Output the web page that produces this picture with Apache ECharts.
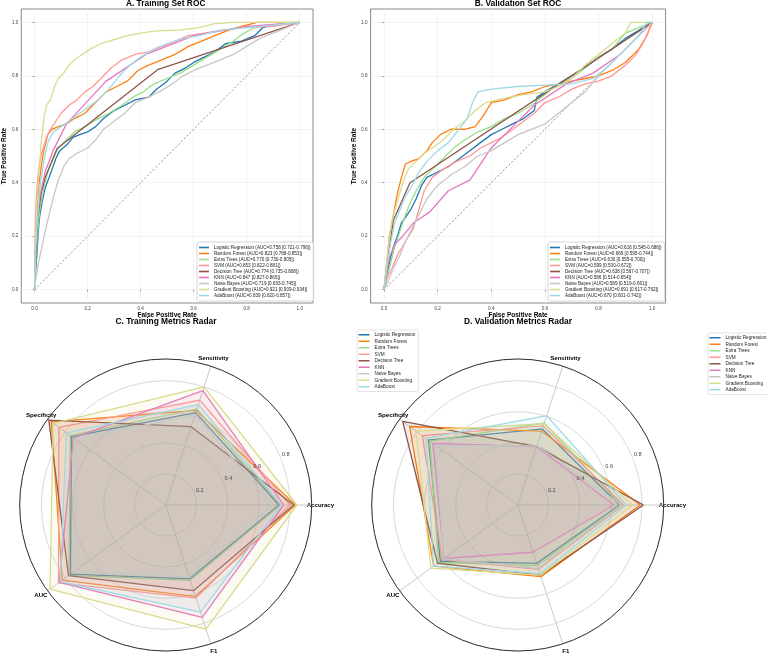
<!DOCTYPE html>
<html><head><meta charset="utf-8">
<script src="https://cdn.jsdelivr.net/npm/echarts@6/dist/echarts.min.js"></script>
<style>html,body{margin:0;padding:0;background:#fff}#c{width:767px;height:654px}</style>
</head><body><div id="c"></div><script>
// ---------------- data ----------------
const models = ['Logistic Regression','Random Forest','Extra Trees','SVM','Decision Tree','KNN','Naive Bayes','Gradient Boosting','AdaBoost'];
const colors = ['#1f77b4','#ff7f0e','#98df8a','#ff9896','#8c564b','#e377c2','#c7c7c7','#dbdb8d','#9edae5'];

const trainAUC    = [0.758,0.823,0.770,0.853,0.774,0.847,0.719,0.921,0.839];
const trainCILow  = [0.721,0.788,0.730,0.822,0.735,0.827,0.693,0.909,0.820];
const trainCIHigh = [0.796,0.853,0.805,0.881,0.808,0.866,0.745,0.934,0.857];
const valAUC      = [0.616,0.669,0.630,0.599,0.638,0.586,0.589,0.691,0.670];
const valCILow    = [0.545,0.595,0.555,0.530,0.567,0.514,0.519,0.617,0.601];
const valCIHigh   = [0.686,0.744,0.700,0.672,0.707,0.654,0.661,0.762,0.742];

const rocTicks = [0,0.2,0.4,0.6,0.8,1.0];
const diagonal = [[0,0],[1,1]];

const rocTrainLR = [[0,0],[0.004,0.07],[0.008,0.12],[0.014,0.22],[0.02,0.28],[0.029,0.33],[0.04,0.38],[0.055,0.42],[0.066,0.45],[0.08,0.49],[0.095,0.52],[0.12,0.54],[0.145,0.57],[0.17,0.58],[0.2,0.59],[0.23,0.61],[0.26,0.64],[0.3,0.67],[0.34,0.69],[0.38,0.71],[0.43,0.72],[0.46,0.75],[0.5,0.78],[0.53,0.81],[0.57,0.83],[0.6,0.85],[0.64,0.87],[0.68,0.89],[0.72,0.92],[0.78,0.93],[0.83,0.95],[0.86,0.98],[0.9,0.99],[1,1]];
const rocTrainRF = [[0,0],[0.003,0.15],[0.008,0.27],[0.015,0.38],[0.025,0.46],[0.035,0.52],[0.05,0.58],[0.065,0.6],[0.09,0.61],[0.12,0.62],[0.15,0.64],[0.19,0.66],[0.23,0.7],[0.27,0.74],[0.31,0.76],[0.35,0.78],[0.39,0.82],[0.43,0.84],[0.48,0.86],[0.53,0.88],[0.58,0.91],[0.63,0.93],[0.68,0.95],[0.73,0.97],[0.78,0.985],[0.84,1],[1,1]];
const rocTrainET = [[0,0],[0.004,0.1],[0.01,0.2],[0.02,0.3],[0.035,0.38],[0.05,0.44],[0.07,0.49],[0.09,0.53],[0.12,0.56],[0.15,0.59],[0.19,0.61],[0.24,0.64],[0.28,0.66],[0.33,0.69],[0.37,0.72],[0.41,0.74],[0.45,0.77],[0.5,0.79],[0.55,0.81],[0.6,0.84],[0.65,0.87],[0.7,0.9],[0.75,0.93],[0.79,0.96],[0.83,0.98],[0.88,0.99],[1,1]];
const rocTrainSVM = [[0,0],[0.002,0.2],[0.006,0.33],[0.012,0.42],[0.02,0.48],[0.03,0.52],[0.045,0.57],[0.06,0.6],[0.08,0.63],[0.1,0.66],[0.13,0.69],[0.16,0.71],[0.19,0.74],[0.22,0.76],[0.25,0.79],[0.29,0.83],[0.33,0.86],[0.38,0.88],[0.43,0.89],[0.48,0.91],[0.53,0.93],[0.58,0.95],[0.64,0.96],[0.7,0.97],[0.78,0.98],[0.9,0.985],[1,1]];
const rocTrainDT = [[0,0],[0.004,0.12],[0.012,0.27],[0.025,0.36],[0.04,0.42],[0.085,0.528],[0.464,0.823],[1,1]];
const rocTrainKNN = [[0,0],[0.003,0.14],[0.01,0.27],[0.02,0.35],[0.04,0.44],[0.07,0.52],[0.12,0.62],[0.27,0.78],[0.42,0.88],[0.6,0.95],[0.8,0.985],[1,1]];
const rocTrainNB = [[0,0],[0.005,0.04],[0.015,0.1],[0.03,0.17],[0.045,0.24],[0.06,0.3],[0.075,0.36],[0.09,0.41],[0.11,0.46],[0.13,0.49],[0.16,0.51],[0.2,0.53],[0.23,0.56],[0.26,0.6],[0.3,0.63],[0.34,0.66],[0.38,0.7],[0.43,0.72],[0.47,0.74],[0.52,0.77],[0.56,0.8],[0.6,0.82],[0.65,0.84],[0.7,0.86],[0.75,0.88],[0.8,0.91],[0.85,0.94],[0.9,0.96],[0.95,0.98],[1,1]];
const rocTrainGB = [[0,0],[0.003,0.17],[0.008,0.3],[0.015,0.42],[0.025,0.55],[0.035,0.64],[0.045,0.69],[0.06,0.71],[0.075,0.76],[0.09,0.79],[0.11,0.81],[0.13,0.84],[0.15,0.86],[0.18,0.88],[0.21,0.9],[0.25,0.92],[0.3,0.935],[0.35,0.95],[0.4,0.96],[0.45,0.967],[0.55,0.972],[0.62,0.98],[0.68,0.995],[0.75,1],[1,1]];
const rocTrainAda = [[0,0],[0.003,0.12],[0.01,0.25],[0.02,0.38],[0.035,0.48],[0.05,0.55],[0.07,0.59],[0.1,0.61],[0.13,0.63],[0.17,0.66],[0.2,0.68],[0.24,0.71],[0.28,0.75],[0.32,0.8],[0.36,0.84],[0.4,0.87],[0.45,0.9],[0.5,0.92],[0.56,0.94],[0.62,0.95],[0.7,0.97],[0.8,0.98],[0.9,0.99],[1,1]];

const rocValLR = [[0,0],[0.01,0.05],[0.02,0.1],[0.035,0.16],[0.05,0.2],[0.065,0.25],[0.08,0.27],[0.1,0.3],[0.12,0.34],[0.14,0.39],[0.16,0.42],[0.2,0.44],[0.24,0.46],[0.28,0.49],[0.32,0.52],[0.36,0.55],[0.4,0.58],[0.44,0.6],[0.48,0.62],[0.52,0.64],[0.56,0.67],[0.57,0.72],[0.6,0.74],[0.65,0.77],[0.7,0.8],[0.75,0.83],[0.8,0.87],[0.85,0.9],[0.9,0.94],[0.95,0.97],[1,1]];
const rocValRF = [[0,0],[0.01,0.1],[0.02,0.2],[0.035,0.28],[0.05,0.36],[0.065,0.42],[0.08,0.47],[0.1,0.48],[0.13,0.49],[0.16,0.52],[0.18,0.55],[0.21,0.58],[0.25,0.6],[0.3,0.6],[0.34,0.61],[0.37,0.65],[0.4,0.7],[0.45,0.71],[0.5,0.73],[0.55,0.74],[0.6,0.76],[0.65,0.77],[0.7,0.78],[0.75,0.79],[0.8,0.8],[0.85,0.82],[0.9,0.85],[0.95,0.9],[0.98,0.95],[1,1]];
const rocValET = [[0,0],[0.01,0.04],[0.025,0.1],[0.04,0.16],[0.06,0.22],[0.08,0.28],[0.1,0.33],[0.12,0.37],[0.15,0.42],[0.18,0.45],[0.22,0.49],[0.26,0.53],[0.3,0.56],[0.35,0.59],[0.4,0.61],[0.45,0.64],[0.5,0.66],[0.55,0.69],[0.6,0.73],[0.65,0.77],[0.7,0.79],[0.75,0.83],[0.8,0.87],[0.85,0.9],[0.9,0.96],[0.95,0.98],[1,1]];
const rocValSVM = [[0,0],[0.01,0.04],[0.03,0.08],[0.05,0.13],[0.08,0.18],[0.11,0.23],[0.13,0.3],[0.15,0.37],[0.18,0.42],[0.22,0.45],[0.27,0.48],[0.32,0.5],[0.36,0.53],[0.4,0.55],[0.44,0.57],[0.48,0.6],[0.52,0.63],[0.56,0.66],[0.6,0.7],[0.65,0.72],[0.7,0.75],[0.75,0.77],[0.8,0.78],[0.85,0.8],[0.9,0.84],[0.94,0.88],[0.97,0.93],[1,1]];
const rocValDT = [[0,0],[0.015,0.12],[0.035,0.26],[0.097,0.4],[1,1]];
const rocValKNN = [[0,0],[0.02,0.12],[0.04,0.17],[0.07,0.2],[0.11,0.25],[0.17,0.29],[0.24,0.37],[0.32,0.41],[0.4,0.53],[0.48,0.61],[0.56,0.69],[0.68,0.77],[0.78,0.81],[0.88,0.88],[1,1]];
const rocValNB = [[0,0],[0.015,0.03],[0.035,0.08],[0.06,0.13],[0.08,0.18],[0.1,0.22],[0.13,0.28],[0.16,0.34],[0.2,0.39],[0.25,0.43],[0.3,0.46],[0.35,0.5],[0.4,0.52],[0.45,0.55],[0.5,0.58],[0.55,0.6],[0.6,0.62],[0.65,0.66],[0.7,0.7],[0.75,0.74],[0.8,0.8],[0.85,0.85],[0.9,0.9],[0.95,0.95],[1,1]];
const rocValGB = [[0,0],[0.01,0.1],[0.02,0.2],[0.035,0.28],[0.05,0.33],[0.07,0.4],[0.09,0.45],[0.12,0.48],[0.15,0.51],[0.18,0.53],[0.22,0.56],[0.26,0.6],[0.3,0.63],[0.34,0.67],[0.38,0.7],[0.42,0.71],[0.47,0.72],[0.52,0.73],[0.6,0.74],[0.65,0.76],[0.7,0.79],[0.75,0.84],[0.8,0.88],[0.85,0.92],[0.9,0.96],[0.92,1],[1,1]];
const rocValAda = [[0,0],[0.01,0.08],[0.025,0.18],[0.04,0.25],[0.06,0.3],[0.08,0.35],[0.1,0.38],[0.13,0.44],[0.16,0.48],[0.2,0.52],[0.24,0.55],[0.28,0.6],[0.31,0.64],[0.33,0.7],[0.35,0.74],[0.4,0.75],[0.5,0.76],[0.6,0.765],[0.7,0.77],[0.78,0.79],[0.84,0.84],[0.9,0.9],[0.95,0.95],[0.98,1],[1,1]];

const radarMetrics = ['Accuracy','Sensitivity','Specificity','AUC','F1'];
const radarTickLabels = [0.2,0.4,0.6,0.8];
const radarMax = 0.94;
const trainAccuracy    = [0.73,0.835,0.74,0.80,0.825,0.76,0.69,0.845,0.745];
const trainSensitivity = [0.625,0.64,0.65,0.71,0.53,0.775,0.61,0.80,0.68];
const trainSpecificity = [0.75,0.91,0.76,0.85,0.93,0.735,0.72,0.895,0.79];
const trainF1          = [0.50,0.62,0.51,0.63,0.58,0.76,0.49,0.84,0.725];
const valAccuracy      = [0.655,0.79,0.665,0.68,0.81,0.62,0.67,0.74,0.70];
const valSensitivity   = [0.515,0.50,0.555,0.535,0.395,0.395,0.40,0.55,0.605];
const valSpecificity   = [0.71,0.86,0.70,0.76,0.915,0.675,0.65,0.81,0.73];
const valF1            = [0.395,0.485,0.41,0.435,0.475,0.32,0.43,0.475,0.465];

// ---------------- build ----------------
const rocTrain = [rocTrainLR,rocTrainRF,rocTrainET,rocTrainSVM,rocTrainDT,rocTrainKNN,rocTrainNB,rocTrainGB,rocTrainAda];
const rocVal = [rocValLR,rocValRF,rocValET,rocValSVM,rocValDT,rocValKNN,rocValNB,rocValGB,rocValAda];
const lab = (m,a,l,h)=>`${m} (AUC=${a.toFixed(3)} [${l.toFixed(3)}-${h.toFixed(3)}])`;
const trainLabels = models.map((m,i)=>lab(m,trainAUC[i],trainCILow[i],trainCIHigh[i]));
const valLabels = models.map((m,i)=>lab(m,valAUC[i],valCILow[i],valCIHigh[i]));

const FONT = 'Liberation Sans, Arial, Helvetica, sans-serif';
const tickFmt = v => v.toFixed(1);

function rocX(gi){
  return {gridIndex:gi, type:'value', min:-0.05, max:1.05,
    name:'False Positive Rate', nameLocation:'middle', nameGap:8,
    nameTextStyle:{fontWeight:'bold', fontSize:6.5, color:'#000', fontFamily:FONT},
    axisLine:{show:false},
    axisTick:{show:true, customValues:rocTicks, length:2, lineStyle:{color:'#666', width:0.6}},
    axisLabel:{customValues:rocTicks, formatter:tickFmt, fontSize:4.6, color:'#444', margin:3, fontFamily:FONT},
    splitLine:{show:true, customValues:rocTicks, lineStyle:{color:'#ececec', width:0.6}}};
}
function rocY(gi){
  return {gridIndex:gi, type:'value', min:-0.05, max:1.05,
    name:'True Positive Rate', nameLocation:'middle', nameGap:11,
    nameTextStyle:{fontWeight:'bold', fontSize:6.5, color:'#000', fontFamily:FONT},
    axisLine:{show:false},
    axisTick:{show:true, customValues:rocTicks, length:2, lineStyle:{color:'#666', width:0.6}},
    axisLabel:{customValues:rocTicks, formatter:tickFmt, fontSize:4.6, color:'#444', margin:3, fontFamily:FONT},
    splitLine:{show:true, customValues:rocTicks, lineStyle:{color:'#ececec', width:0.6}}};
}

const series = [];
[0,1].forEach(gi=>{
  const curves = gi===0 ? rocTrain : rocVal;
  const labels = gi===0 ? trainLabels : valLabels;
  series.push({type:'line', name:'diag'+gi, xAxisIndex:gi, yAxisIndex:gi, data:diagonal, symbol:'none',
    lineStyle:{color:'#666', width:0.7, type:[2,2]}, z:2, silent:true});
  models.forEach((m,i)=>{
    series.push({type:'line', name:labels[i], xAxisIndex:gi, yAxisIndex:gi, data:curves[i], symbol:'none',
      lineStyle:{color:colors[i], width:1.3}, itemStyle:{color:colors[i]}, z:3});
  });
});
[0,1].forEach(ri=>{
  const acc = ri===0?trainAccuracy:valAccuracy, sen = ri===0?trainSensitivity:valSensitivity,
        spe = ri===0?trainSpecificity:valSpecificity, auc = ri===0?trainAUC:valAUC, f1 = ri===0?trainF1:valF1;
  models.forEach((m,i)=>{
    series.push({type:'radar', radarIndex:ri, name:m, symbol:'none',
      data:[{name:m, value:[acc[i],sen[i],spe[i],auc[i],f1[i]]}],
      lineStyle:{color:colors[i], width:1.3}, itemStyle:{color:colors[i]},
      areaStyle:{color:colors[i], opacity:0.1}, z:3});
  });
});

const centers = [[165.7,505],[517.7,505]];
const R = 146;
const richKeys = ['a','b','c','d','e'];
const rich = {
  a:{fontWeight:'bold', fontSize:6.1, color:'#000', lineHeight:7, fontFamily:FONT, padding:[0,0,0,6]},
  b:{fontWeight:'bold', fontSize:6.1, color:'#000', lineHeight:7, fontFamily:FONT, padding:[0,0,29,12]},
  c:{fontWeight:'bold', fontSize:6.1, color:'#000', lineHeight:7, fontFamily:FONT, padding:[0,0,14,0]},
  d:{fontWeight:'bold', fontSize:6.1, color:'#000', lineHeight:7, fontFamily:FONT, padding:[15,9,0,0]},
  e:{fontWeight:'bold', fontSize:6.1, color:'#000', lineHeight:7, fontFamily:FONT, padding:[29,0,0,13]}
};
const polar = [], angleAxis = [], radiusAxis = [], radar = [];
centers.forEach((c,k)=>{
  polar.push({center:c, radius:R});
  polar.push({center:c, radius:R});
  const p0 = 2*k, p1 = 2*k+1;
  angleAxis.push({polarIndex:p0, type:'value', min:0, max:360, interval:72, startAngle:0, clockwise:false,
    axisLine:{show:true, lineStyle:{color:'#333', width:1}},
    axisTick:{show:false},
    splitLine:{show:true, lineStyle:{color:'#bdbdbd', width:0.8}},
    axisLabel:{show:true, margin:-11, rich:rich,
      formatter:v=>{const i=Math.round(v/72); return i<5 ? `{${richKeys[i]}|${radarMetrics[i]}}` : '';}}});
  angleAxis.push({polarIndex:p1, type:'value', min:0, max:360, startAngle:22.5, clockwise:false,
    axisLine:{show:false}, axisTick:{show:false}, splitLine:{show:false}, axisLabel:{show:false}});
  radiusAxis.push({polarIndex:p0, type:'value', min:0, max:radarMax, interval:0.2,
    axisLine:{show:false}, axisTick:{show:false}, axisLabel:{show:false},
    splitLine:{show:true, lineStyle:{color:'#cfcfcf', width:0.8}}});
  radiusAxis.push({polarIndex:p1, type:'value', min:0, max:radarMax, interval:0.2, z:10,
    axisLine:{show:false}, axisTick:{show:false}, splitLine:{show:false},
    axisLabel:{show:true, align:'left', verticalAlign:'bottom', margin:0, padding:[0,0,0,1.5],
      fontSize:5.5, color:'#444', fontFamily:FONT,
      formatter:v=> radarTickLabels.some(t=>Math.abs(t-v)<1e-6) ? v.toFixed(1) : ''}});
  radar.push({center:c, radius:R, startAngle:0, shape:'circle', splitNumber:4, silent:true,
    indicator: radarMetrics.map(n=>({name:n, min:0, max:radarMax})),
    axisName:{show:false}, axisLine:{show:false}, splitLine:{show:false}, splitArea:{show:false},
    axisTick:{show:false}, axisLabel:{show:false}});
});

function rocLegend(data, left){
  return {data:data, left:left, top:242, orient:'vertical', icon:'rect', itemWidth:10, itemHeight:1.6,
    itemGap:0, padding:[2.5,3,2.5,2], selectedMode:false,
    backgroundColor:'rgba(255,255,255,0.85)', borderColor:'#cccccc', borderWidth:0.8, borderRadius:1.5,
    textStyle:{fontSize:4.6, lineHeight:6, color:'#222', fontFamily:FONT}};
}
function radarLegend(left, top){
  return {data:models, left:left, top:top, orient:'vertical', icon:'rect', itemWidth:11, itemHeight:1.5,
    itemGap:0, padding:[1.5,3,1.5,1.5], selectedMode:false,
    backgroundColor:'#fff', borderColor:'#dddddd', borderWidth:0.8, borderRadius:1.5,
    textStyle:{fontSize:4.7, lineHeight:6.5, color:'#222', fontFamily:FONT}};
}

const titleStyle = {fontWeight:'bold', fontSize:8.4, color:'#000', fontFamily:FONT};
const option = {
  animation:false,
  backgroundColor:'#fff',
  textStyle:{fontFamily:FONT},
  title:[
    {text:'A. Training Set ROC', left:165.7, top:0, textAlign:'center', padding:0, textStyle:titleStyle},
    {text:'B. Validation Set ROC', left:518, top:0, textAlign:'center', padding:0, textStyle:titleStyle},
    {text:'C. Training Metrics Radar', left:166, top:317.5, textAlign:'center', padding:0, textStyle:titleStyle},
    {text:'D. Validation Metrics Radar', left:518, top:317.5, textAlign:'center', padding:0, textStyle:titleStyle}
  ],
  grid:[
    {left:19, top:9, width:294, height:294, show:true, borderColor:'#888', borderWidth:1, backgroundColor:'#fff', containLabel:false},
    {left:370.6, top:9, width:295, height:294, show:true, borderColor:'#888', borderWidth:1, backgroundColor:'#fff', containLabel:false}
  ],
  xAxis:[rocX(0), rocX(1)],
  yAxis:[rocY(0), rocY(1)],
  legend:[rocLegend(trainLabels,197), rocLegend(valLabels,548), radarLegend(357,330), radarLegend(708,333)],
  polar:polar, angleAxis:angleAxis, radiusAxis:radiusAxis, radar:radar,
  series:series
};
const chart = echarts.init(document.getElementById('c'), null, {renderer:'canvas'});
chart.setOption(option);
</script></body></html>
